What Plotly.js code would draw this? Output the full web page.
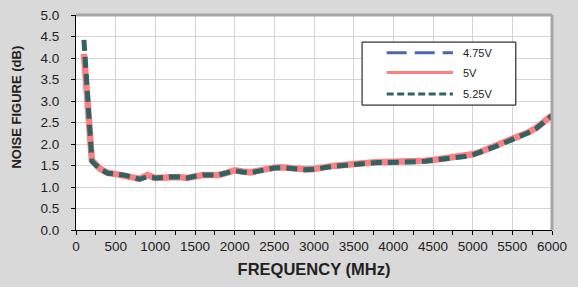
<!DOCTYPE html>
<html><head><meta charset="utf-8">
<script src="https://cdn.plot.ly/plotly-3.0.1.min.js"></script>
<style>html,body{margin:0;padding:0;background:#d9d9d9;}#c{width:578px;height:287px;}</style>
</head><body><div id="c"></div>
<script>
var freq = [100,200,300,400,500,600,700,800,900,1000,1100,1200,1300,1400,1500,1600,1700,1800,1900,2000,
 2100,2200,2300,2400,2500,2600,2700,2800,2900,3000,3100,3200,3300,3400,3500,3600,3700,3800,3900,4000,
 4100,4200,4300,4400,4500,4600,4700,4800,4900,5000,5100,5200,5300,5400,5500,5600,5700,5800,5900,6000];
var nf475 = [4.05,1.58,1.41,1.31,1.29,1.27,1.22,1.18,1.23,1.20,1.21,1.23,1.22,1.20,1.24,1.27,1.27,1.27,1.32,1.37,
 1.34,1.32,1.36,1.41,1.43,1.44,1.42,1.41,1.38,1.40,1.44,1.46,1.48,1.50,1.51,1.54,1.55,1.56,1.56,1.56,
 1.57,1.57,1.58,1.59,1.61,1.63,1.65,1.68,1.70,1.74,1.79,1.86,1.93,2.01,2.08,2.15,2.24,2.34,2.48,2.64];
var nf500 = [4.10,1.62,1.43,1.33,1.30,1.28,1.23,1.19,1.28,1.21,1.22,1.24,1.23,1.21,1.25,1.28,1.28,1.28,1.33,1.39,
 1.36,1.34,1.38,1.43,1.45,1.46,1.44,1.42,1.41,1.42,1.46,1.48,1.50,1.52,1.53,1.56,1.57,1.58,1.58,1.58,
 1.59,1.59,1.60,1.61,1.63,1.65,1.67,1.70,1.72,1.76,1.82,1.89,1.96,2.04,2.11,2.18,2.27,2.37,2.51,2.67];
var nf525 = [4.42,1.60,1.42,1.32,1.30,1.28,1.23,1.18,1.24,1.21,1.22,1.24,1.23,1.21,1.25,1.28,1.28,1.28,1.33,1.38,
 1.35,1.33,1.37,1.42,1.44,1.45,1.43,1.42,1.40,1.41,1.45,1.47,1.49,1.51,1.52,1.55,1.56,1.57,1.57,1.57,
 1.58,1.58,1.59,1.60,1.62,1.64,1.66,1.69,1.71,1.75,1.81,1.88,1.95,2.03,2.10,2.17,2.26,2.36,2.50,2.66];
var seriesNames = ['4.75V','5V','5.25V'];
var xTitle = 'FREQUENCY (MHz)';
var yTitle = 'NOISE FIGURE (dB)';

var font = 'Liberation Sans, Arial, sans-serif';
var styles = [
 {color:'#4a67b0', width:2.5, dash:'20px,8px'},
 {color:'#ff8082', width:6.5, dash:'solid'},
 {color:'#2f6462', width:5, dash:'11px,6px'}
];
var legendStyles = [
 {color:'#4a67b0', width:3, dash:'20px,8px'},
 {color:'#ff8082', width:3, dash:'solid'},
 {color:'#2f6462', width:3, dash:'7px,3.5px'}
];
var ys = [nf475, nf500, nf525];
var traces = ys.map(function(y,i){
  return {x:freq, y:y, name:seriesNames[i], mode:'lines', line:styles[i], showlegend:false};
});

// custom legend box (paper coords)
var legBox = {x0:0.601, x1:0.924, y0:0.581, y1:0.874};
var rowY = [0.825, 0.732, 0.633];
var shapes = [
  {type:'line', xref:'paper', yref:'paper', x0:0, x1:1, y0:1, y1:1, line:{color:'#a6a6a6', width:3}},
  {type:'line', xref:'paper', yref:'paper', x0:1, x1:1, y0:0, y1:1, line:{color:'#a6a6a6', width:3}},
  {type:'rect', xref:'paper', yref:'paper', x0:legBox.x0, x1:legBox.x1, y0:legBox.y0, y1:legBox.y1,
   fillcolor:'#ffffff', line:{color:'#000', width:1}, layer:'above'}
];
var annotations = [
  {xref:'paper', yref:'paper', x:-0.124, y:0.574, xanchor:'center', yanchor:'middle', textangle:-90,
   text:yTitle, showarrow:false, font:{family:font, size:13, color:'#222', weight:'bold'}}
];
seriesNames.forEach(function(n,i){
  shapes.push({type:'line', xref:'paper', yref:'paper', x0:0.6527, x1:0.792, y0:rowY[i], y1:rowY[i],
    line:legendStyles[i], layer:'above'});
  annotations.push({xref:'paper', yref:'paper', x:0.808, y:rowY[i], xanchor:'left', yanchor:'middle',
    text:n, showarrow:false, font:{family:font, size:11, color:'#222'}});
});

var layout = {
 width:578, height:287,
 paper_bgcolor:'#d9d9d9', plot_bgcolor:'#ffffff',
 margin:{l:76, r:26, t:15, b:57},
 font:{family:font, size:11, color:'#222'},
 showlegend:false,
 xaxis:{range:[0,6000], dtick:500, tick0:0, ticks:'outside', ticklen:4, tickcolor:'#000',
   showline:true, linecolor:'#000', linewidth:1, showgrid:true, gridcolor:'#d4d4d4', gridwidth:1, zeroline:false,
   minor:{dtick:250, ticks:'outside', ticklen:4, tickcolor:'#000', showgrid:false},
   tickfont:{size:13.5, color:'#222'},
   title:{text:xTitle, font:{family:font, size:16.5, color:'#222', weight:'bold'}, standoff:10}},
 yaxis:{range:[0,5], dtick:0.5, tickformat:'.1f', ticks:'outside', ticklen:4, tickcolor:'#000',
   showline:true, linecolor:'#000', linewidth:1, showgrid:true, gridcolor:'#d4d4d4', gridwidth:1, zeroline:false,
   tickfont:{size:13.5, color:'#222'}, ticklabelstandoff:9},
 shapes:shapes,
 annotations:annotations
};
Plotly.newPlot('c', traces, layout, {staticPlot:true});
</script></body></html>
